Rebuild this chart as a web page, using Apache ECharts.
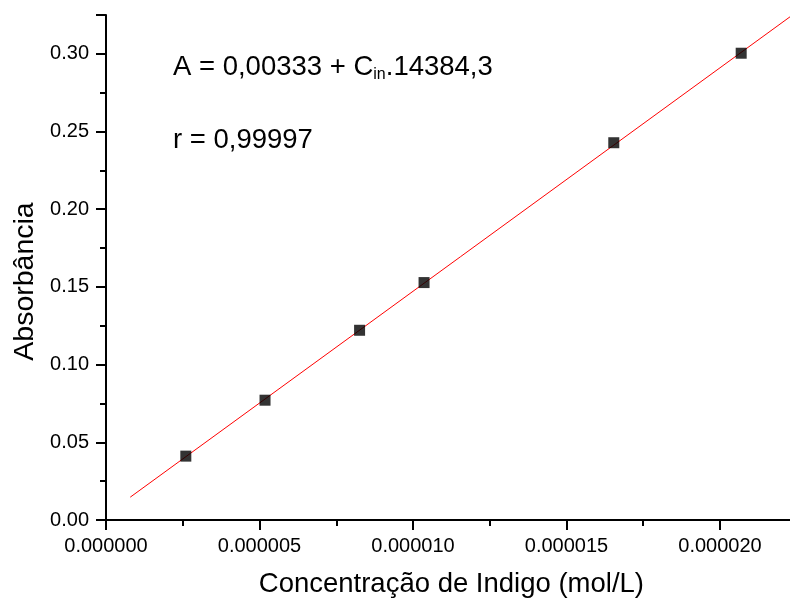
<!DOCTYPE html>
<html>
<head>
    <meta charset="utf-8">
    <title>Absorbância x Concentração</title>
    <script src="https://cdn.jsdelivr.net/npm/echarts@6/dist/echarts.min.js"></script>
    <style>
        html, body { margin: 0; padding: 0; background: #fff; }
        #main { width: 790px; height: 602px; }
    </style>
</head>
<body>
<div id="main"></div>
<script type="text/javascript">
    // pontos medidos
    var concX = [2.60e-6, 5.18e-6, 8.26e-6, 1.036e-5, 1.654e-5, 2.069e-5];
    var absY = [0.0411, 0.0771, 0.1221, 0.1528, 0.2428, 0.3004];
    // reta ajustada (extremos)
    var fitX = [7.9e-7, 2.25e-5];
    var fitY = [0.0147, 0.3270];

    var font = "'Liberation Sans', Arial, sans-serif";

    var myChart = echarts.init(document.getElementById('main'));

    var pontos = concX.map(function (x, i) { return [x, absY[i]]; });
    var reta = fitX.map(function (x, i) { return [x, fitY[i]]; });

    myChart.setOption({
        animation: false,
        backgroundColor: '#fff',
        // eixo x passa da borda direita (imagem cortada)
        grid: { left: 106, top: 15, width: 690.75, bottom: 82, outerBoundsMode: 'none', containLabel: false },
        xAxis: {
            type: 'value',
            min: 0, max: 2.25e-5, interval: 5e-6,
            name: 'Concentração de Indigo (mol/L)',
            nameLocation: 'middle',
            nameGap: 50,
            nameTextStyle: { fontFamily: font, fontSize: 27.5, color: '#000' },
            axisLine: { lineStyle: { color: '#000', width: 2 } },
            axisTick: { show: true, length: 10, lineStyle: { color: '#000', width: 2 } },
            minorTick: { show: true, splitNumber: 2, length: 6, lineStyle: { color: '#000', width: 2 } },
            axisLabel: {
                showMaxLabel: false,
                margin: 16,
                fontFamily: font, fontSize: 20, color: '#000',
                formatter: function (v) { return v.toFixed(6); }
            },
            splitLine: { show: false }
        },
        yAxis: {
            type: 'value',
            min: 0, max: 0.325, interval: 0.05,
            name: 'Absorbância',
            nameLocation: 'middle',
            nameGap: 66,
            nameTextStyle: { fontFamily: font, fontSize: 28.5, color: '#000', padding: [0, 28, 0, 0] },
            axisLine: { lineStyle: { color: '#000', width: 2 } },
            axisTick: { show: true, length: 10, lineStyle: { color: '#000', width: 2 } },
            minorTick: { show: true, splitNumber: 2, length: 6, lineStyle: { color: '#000', width: 2 } },
            axisLabel: {
                showMaxLabel: false,
                margin: 17,
                fontFamily: font, fontSize: 20, color: '#000',
                formatter: function (v) { return v.toFixed(2); }
            },
            splitLine: { show: false }
        },
        graphic: [
            {
                type: 'text', left: 173, top: 53,
                style: {
                    text: '{a|A = 0,00333 + C}{s|in}{a|.14384,3}',
                    rich: {
                        a: { fontFamily: font, fontSize: 27.5, fill: '#000' },
                        s: { fontFamily: font, fontSize: 16, fill: '#000', padding: [16, 0, 0, 0] }
                    }
                }
            },
            {
                type: 'text', left: 173, top: 126,
                style: { text: 'r = 0,99997', fontFamily: font, fontSize: 27.5, fill: '#000' }
            }
        ],
        series: [
            {
                name: 'ajuste',
                type: 'line',
                data: reta,
                showSymbol: false,
                symbol: 'none',
                lineStyle: { color: '#ff0000', width: 1 },
                z: 2
            },
            {
                name: 'Absorbância',
                type: 'scatter',
                data: pontos,
                symbol: 'rect',
                symbolSize: 11,
                itemStyle: { color: '#000' },
                z: 3
            }
        ]
    });
</script>
</body>
</html>
